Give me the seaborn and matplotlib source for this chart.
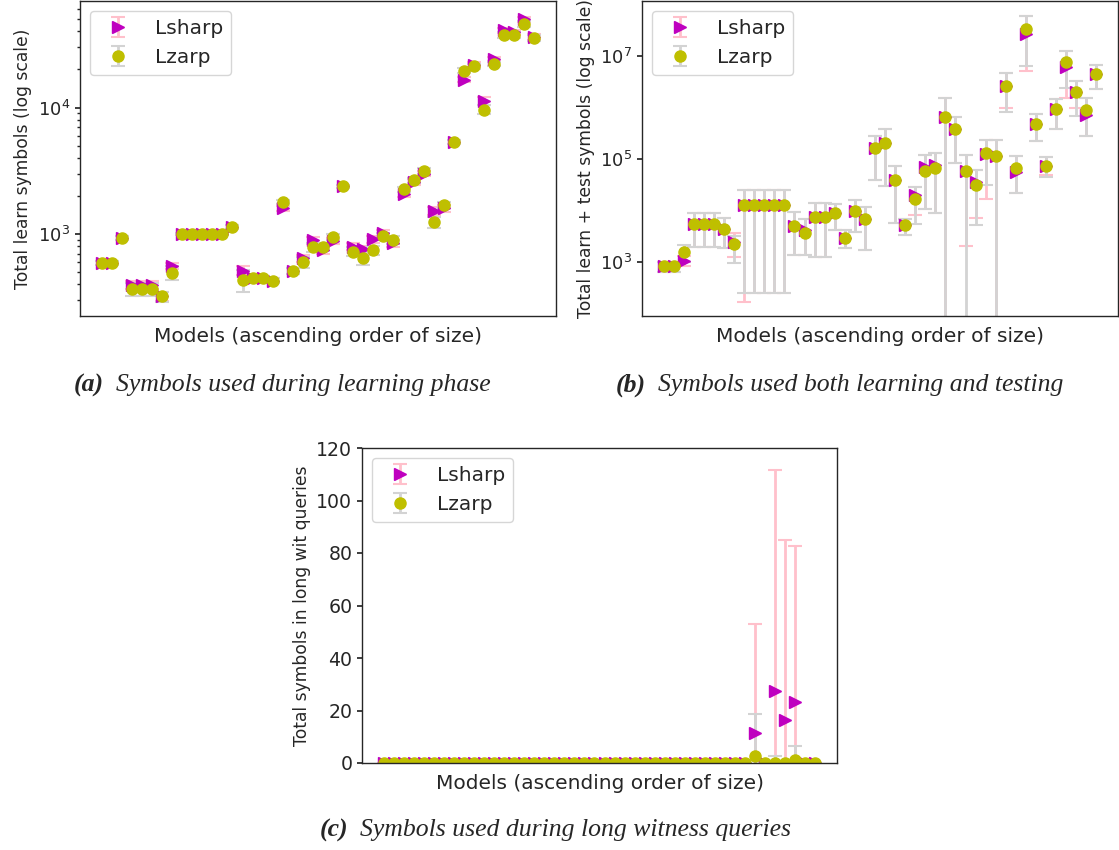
import numpy as np
import matplotlib
matplotlib.use("Agg")
import matplotlib.pyplot as plt
from matplotlib.ticker import NullLocator
import seaborn as sns

n_models = 44
models = np.arange(n_models)

# (a) symbols used during learning phase
learn_lsharp = [594, 594, 935, 396, 396, 396, 321, 560, 1000, 1000, 1000, 1000, 1000, 1142,
                514, 447, 447, 427, 1594, 511, 643, 890, 745, 886, 2388, 795, 757, 907, 1012,
                845, 2054, 2580, 3004, 1526, 1594, 5370, 16600, 21800, 11230, 24150, 40900,
                39200, 49900, 36200]
learn_lsharp_err = [20, 20, 30, 30, 30, 30, 25, 35, 15, 15, 15, 15, 15, 40, 40, 20, 20, 20, 60,
                    25, 45, 50, 50, 50, 60, 50, 50, 60, 60, 60, 100, 120, 150, 120, 100, 200,
                    800, 1000, 800, 1000, 2000, 2000, 2500, 1800]
learn_lzarp = [594, 594, 935, 367, 367, 367, 321, 496, 1000, 1000, 1000, 1000, 1000, 1142,
               434, 447, 447, 427, 1795, 511, 598, 786, 795, 942, 2388, 726, 644, 748, 964,
               897, 2250, 2662, 3149, 1236, 1693, 5370, 19550, 21130, 9640, 22100, 37560,
               37560, 46100, 35400]
learn_lzarp_err = [20, 20, 30, 45, 45, 45, 30, 60, 15, 15, 15, 15, 15, 40, 85, 20, 20, 20, 60,
                   25, 60, 60, 50, 50, 60, 60, 70, 60, 60, 60, 100, 120, 150, 120, 100, 200,
                   800, 1000, 800, 1000, 2000, 2000, 2500, 1800]

# (b) symbols used both learning and testing (mean, lower and upper end of bar)
total_lsharp = [836, 836, 1060, 5380, 5380, 5380, 4360, 2473, 12880, 12880, 12880, 12880, 12880,
                4990, 4170, 7550, 7550, 8790, 2956, 9860, 6810, 159700, 199500, 38300, 5210,
                19880, 70300, 75900, 654000, 373000, 58700, 36000, 123900, 113300, 2610000,
                56200, 25900000, 472000, 72400, 910000, 6090000, 2000000, 706000, 4400000]
total_lsharp_lo = [650, 650, 830, 1980, 1980, 1980, 1840, 1267, 170, 247, 247, 247, 247, 1366,
                   1366, 1267, 1267, 4170, 1841, 3860, 1709, 38800, 29700, 5620, 3335, 8150,
                   10500, 8790, 10, 81800, 2040, 7030, 16400, 10, 978000, 21400, 5030000,
                   224000, 48500, 378000, 1490000, 952000, 276600, 2220000]
total_lsharp_hi = [1010, 1010, 1300, 8790, 8790, 8790, 7030, 3595, 24830, 24830, 24830, 24830,
                   24830, 9440, 6730, 14090, 14090, 13300, 4170, 15900, 11800, 276600, 373000,
                   72400, 6810, 28800, 118600, 127800, 1487000, 654000, 118600, 60700, 231000,
                   231000, 4670000, 113300, 59300000, 738000, 107000, 1420000, 12300000,
                   3260000, 1487000, 6570000]
total_lzarp = [836, 836, 1540, 5380, 5380, 5380, 4360, 2203, 12880, 12880, 12880, 12880, 12880,
               4990, 3595, 7550, 7550, 8790, 2956, 9860, 6810, 159700, 199500, 38300, 5210,
               16400, 58700, 65400, 654000, 373000, 58700, 31000, 131200, 113300, 2610000,
               65400, 32800000, 472000, 72400, 910000, 7410000, 2000000, 883000, 4400000]
total_lzarp_lo = [650, 650, 1000, 1980, 1980, 1980, 1840, 944, 247, 247, 247, 247, 247, 1366,
                  1366, 1267, 1267, 4170, 1841, 3860, 1709, 38800, 29700, 5620, 3335, 5450,
                  10500, 8790, 10, 81800, 10, 5210, 31000, 10, 818000, 21400, 6280000, 224000,
                  43800, 378000, 2390000, 684000, 276600, 2220000]
total_lzarp_hi = [1010, 1010, 2130, 8790, 8790, 8790, 7030, 3190, 24830, 24830, 24830, 24830,
                  24830, 9440, 6730, 14090, 14090, 13300, 4170, 15900, 11800, 276600, 373000,
                  72400, 6810, 28800, 118600, 127800, 1487000, 654000, 118600, 60700, 231000,
                  231000, 4670000, 113300, 59300000, 738000, 107000, 1420000, 12300000,
                  3260000, 1487000, 6570000]

# (c) symbols used during long witness queries
wit_lsharp = [0] * 37 + [11.3, 0, 27.6, 16.4, 23.2, 0, 0]
wit_lsharp_err = [0] * 37 + [41.6, 0, 83.9, 68.6, 59.6, 0, 0]
wit_lzarp = [0] * 37 + [2.8, 0, 0, 0, 1.1, 0, 0]
wit_lzarp_err = [0] * 37 + [15.9, 0, 2.5, 0, 5.2, 0, 0]

XLABEL = "Models (ascending order of size)"
MAGENTA = "#bf00bf"
OLIVE = "#bfbf00"

sns.set_theme(context="notebook", style="ticks", color_codes=False,
              rc={"axes.edgecolor": "0.15", "axes.linewidth": 1.0,
                  "xtick.major.size": 3.5, "ytick.major.size": 3.5,
                  "ytick.minor.size": 2.0, "lines.solid_capstyle": "butt"})
plt.rcParams["font.family"] = ["DejaVu Sans"]


def draw(ax, s, s_err, z, z_err):
    ax.errorbar(models, s, yerr=s_err, fmt=">", color=MAGENTA, ecolor="pink",
                elinewidth=2, capsize=5, capthick=1.5, markersize=8, label="Lsharp")
    ax.errorbar(models, z, yerr=z_err, fmt="o", color=OLIVE, ecolor="lightgray",
                elinewidth=2, capsize=5, capthick=1.5, markersize=8, label="Lzarp")
    ax.set_xticks([])
    ax.set_xlabel(XLABEL, fontsize=14.5, labelpad=8)
    ax.tick_params(axis="y", labelsize=13)
    ax.legend(loc="upper left", fontsize=14.5, frameon=True)


fig = plt.figure(figsize=(11.19, 8.5), dpi=100)
W, H = 1119, 850
ax_a = fig.add_axes([80 / W, 1 - 316 / H, 476 / W, 315 / H])
ax_b = fig.add_axes([642 / W, 1 - 316 / H, 476 / W, 315 / H])
ax_c = fig.add_axes([362 / W, 1 - 763 / H, 475 / W, 315 / H])

ax_a.set_yscale("log")
draw(ax_a, learn_lsharp, learn_lsharp_err, learn_lzarp, learn_lzarp_err)
ax_a.set_ylim(225, 69500)
ax_a.set_ylabel("Total learn symbols (log scale)", fontsize=12.3)

ax_b.set_yscale("log")
s = np.array(total_lsharp, dtype=float)
z = np.array(total_lzarp, dtype=float)
s_err = [s - np.array(total_lsharp_lo), np.array(total_lsharp_hi) - s]
z_err = [z - np.array(total_lzarp_lo), np.array(total_lzarp_hi) - z]
draw(ax_b, s, s_err, z, z_err)
ax_b.set_ylim(90, 1.14e8)
ax_b.set_yticks([1e3, 1e5, 1e7])
ax_b.yaxis.set_minor_locator(NullLocator())
ax_b.set_ylabel("Total learn + test symbols (log scale)", fontsize=12.3)

draw(ax_c, wit_lsharp, wit_lsharp_err, wit_lzarp, wit_lzarp_err)
ax_c.set_ylim(0, 120)
ax_c.set_yticks(range(0, 121, 20))
ax_c.tick_params(axis="y", labelsize=13.6)
ax_c.set_ylabel("Total symbols in long wit queries", fontsize=12.3)

captions = [
    (104, 385, "(a)", "Symbols used during learning phase"),
    (646, 385, "(b)", "Symbols used both learning and testing"),
    (348, 830, "(c)", "Symbols used during long witness queries"),
]
for x, y, tag, text in captions:
    fig.text(x / W, 1 - y / H, tag, ha="right", va="center", fontsize=18.5,
             family="Liberation Serif", style="italic", weight="bold")
    fig.text((x + 12) / W, 1 - y / H, text, ha="left", va="center", fontsize=18.5,
             family="Liberation Serif", style="italic")

fig.savefig("out.png", dpi=100)
